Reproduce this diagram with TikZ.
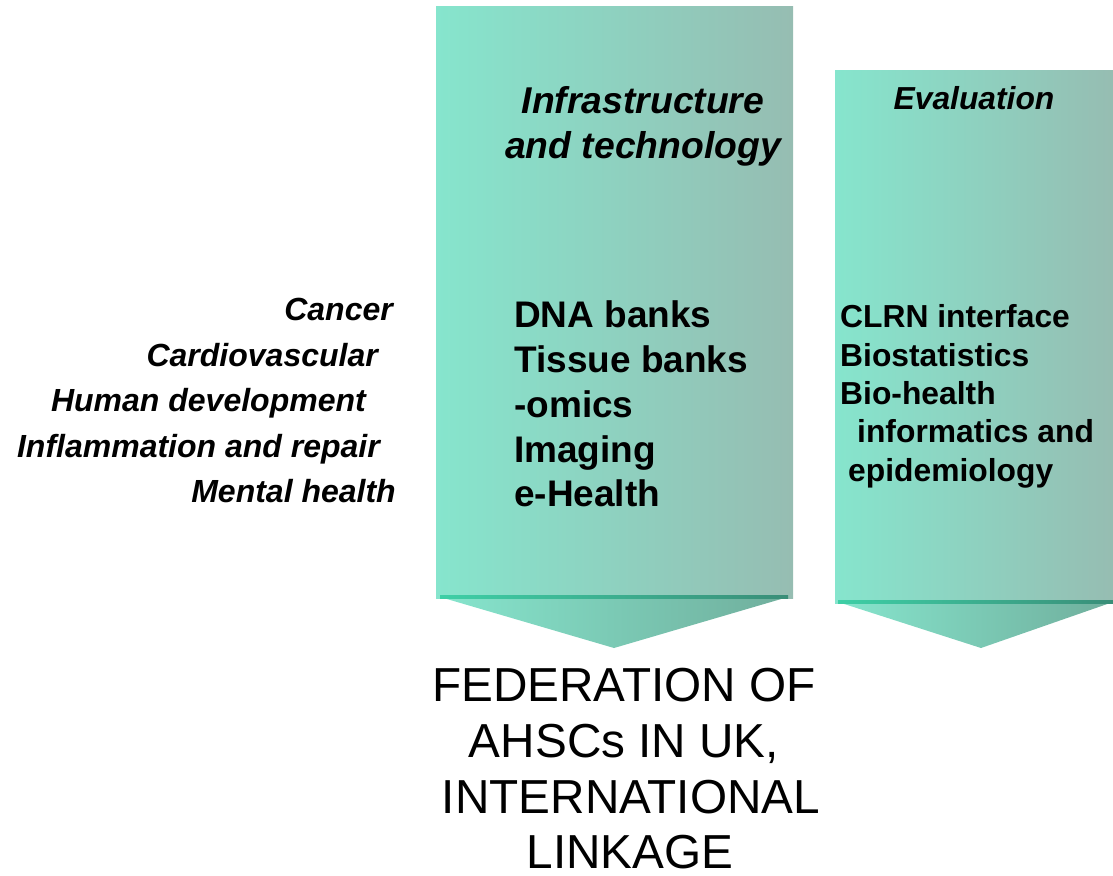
\documentclass[tikz,border=0pt]{standalone}
\usepackage{fontspec}
\setmainfont{Liberation Sans}
\definecolor{boxL}{RGB}{134,229,205}
\definecolor{boxR}{RGB}{150,189,178}
\definecolor{triR}{RGB}{112,174,156}
\definecolor{lineL}{RGB}{62,207,166}
\definecolor{lineR}{RGB}{58,142,120}
\begin{document}
\begin{tikzpicture}[x=1pt,y=-1pt,
  ttl/.style={font=\fontsize{37.3}{37.3}\selectfont\bfseries\itshape,inner sep=0pt},
  evl/.style={font=\fontsize{31.8}{31.8}\selectfont\bfseries\itshape,inner sep=0pt},
  theme/.style={font=\fontsize{32}{32}\selectfont\bfseries\itshape,inner sep=0pt,anchor=base east},
  infra/.style={font=\fontsize{37}{37}\selectfont\bfseries,inner sep=0pt,anchor=base west},
  evitem/.style={font=\fontsize{31.8}{31.8}\selectfont\bfseries,inner sep=0pt,anchor=base west},
  fed/.style={font=\fontsize{47.7}{47.7}\selectfont,inner sep=0pt,anchor=base}]
\useasboundingbox (0,0) rectangle (1113,875);
% left arrow
\shade[left color=boxL,right color=boxR] (436,7) rectangle (793,598);
\shade[left color=boxL,right color=triR] (440,597) -- (788,597) -- (614,648) -- cycle;
\shade[left color=lineL,right color=lineR] (440,595.5) rectangle (788,598);
% right arrow
\shade[left color=boxL,right color=boxR] (835,70) rectangle (1113,603);
\shade[left color=boxL,right color=triR] (838,602) -- (1113,602) -- (981,648) -- cycle;
\shade[left color=lineL,right color=lineR] (838,600.5) rectangle (1113,603);
% titles
\node[ttl,anchor=base] (t1) at (643,113) {Infrastructure};
\node[ttl,anchor=base] (t2) at (643,158) {and technology};
\node[evl,anchor=base] (ev) at (974,109) {Evaluation};
% themes
\node[theme] (c1) at (393,320) {Cancer};
\node[theme] (c2) at (378,366) {Cardiovascular};
\node[theme] (c3) at (366,411) {Human development};
\node[theme] (c4) at (380,457) {Inflammation and repair};
\node[theme] (c5) at (396,502) {Mental health};
% infrastructure items
\node[infra] (i1) at (514,327) {DNA banks};
\node[infra] (i2) at (514,372) {Tissue banks};
\node[infra] (i3) at (514,417) {-omics};
\node[infra] (i4) at (514,462) {Imaging};
\node[infra] (i5) at (514,506) {e-Health};
% evaluation items
\node[evitem] (e1) at (840,327) {CLRN interface};
\node[evitem] (e2) at (840,366) {Biostatistics};
\node[evitem] (e3) at (840,404) {Bio-health};
\node[evitem] (e4) at (857,442) {informatics and};
\node[evitem] (e5) at (848,481) {epidemiology};
% federation
\node[fed] (f1) at (624,701) {FEDERATION OF};
\node[fed] (f2) at (624,757) {AHSCs IN UK,};
\node[fed] (f3) at (631,813) {INTERNATIONAL};
\node[fed] (f4) at (630,868) {LINKAGE};
\end{tikzpicture}
\end{document}
